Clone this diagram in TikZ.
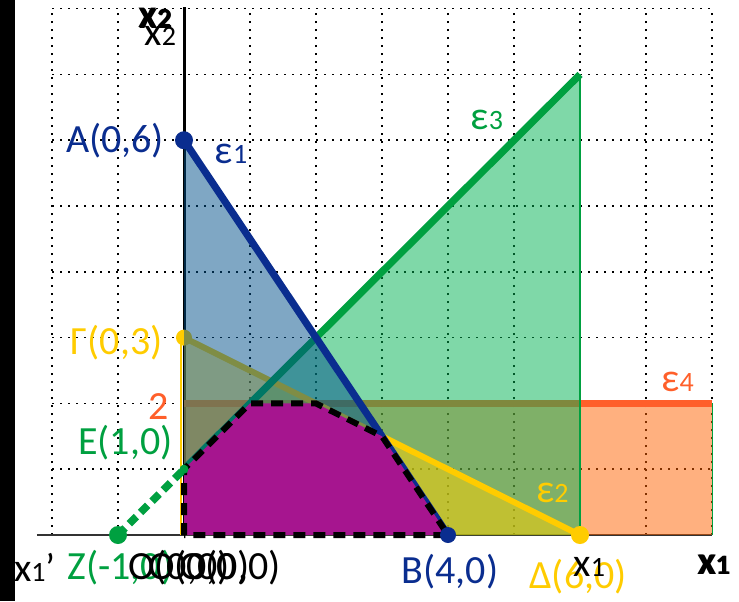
\documentclass[tikz,border=0pt]{standalone}
\usepackage{fontspec}
\setmainfont{Carlito}
\definecolor{cblue}{HTML}{0A2D8F}
\definecolor{cbluefill}{HTML}{00508A}
\definecolor{cgreen}{HTML}{00A040}
\definecolor{cgreenfill}{HTML}{00B151}
\definecolor{cyellow}{HTML}{FFCC00}
\definecolor{cyellowfill}{HTML}{FFD000}
\definecolor{corange}{HTML}{FF5F2A}
\definecolor{corangefill}{HTML}{FF6100}
\definecolor{cpurple}{HTML}{A6158F}
\newcommand{\sub}[1]{{\fontsize{14}{14}\selectfont #1}}
\begin{document}
\begin{tikzpicture}[x=33pt,y=32.9pt,
  lab/.style={inner sep=0pt, font=\fontsize{20}{24}\selectfont},
  gridline/.style={black, line width=0.75pt, dash pattern=on 0.8pt off 3.2pt},
  thickline/.style={line width=3.6pt},
  dot/.style={circle, inner sep=0pt, minimum size=#1},
  fillop/.style={fill opacity=0.5}]
\useasboundingbox (-2.788,-1.003) rectangle (8.409,8.131);
\fill[black] (-2.788,-1.003) rectangle (-2.561,8.131);
% grid
\foreach \i in {-2,-1,1,2,3,4,5,6,7,8} \draw[gridline] (\i,0) -- (\i,8);
\foreach \j in {1,...,8} \draw[gridline] (-2,\j) -- (8,\j);
% key points
\coordinate (O) at (0,0);
\coordinate (A) at (0,6);
\coordinate (B) at (4,0);
\coordinate (G) at (0,3);
\coordinate (D) at (6,0);
\coordinate (Z) at (-1,0);
\coordinate (E) at (0,1);
\coordinate (P) at (6,7);
\coordinate (R) at (0,2);
\coordinate (Q) at (8,2);
\coordinate (S) at (8,0);
\coordinate (F1) at (1,2);
\coordinate (F2) at (2,2);
\coordinate (F3) at (3,1.5);
\coordinate (Ytop) at (0,8.02);
\coordinate (Xleft) at (-2.23,0);
% axes
\draw[black!80, line width=0.8pt] (Xleft) -- (S);
\draw[black, line width=1.5pt] (O) -- (Ytop);
% orange region
\fill[corangefill, fillop] (O) rectangle (Q);
\draw[cgreen, line width=0.5pt] (S) -- (Q);
\draw[corange, line width=3.4pt] (R) -- (Q);
% green region
\fill[cgreenfill, fillop] (O) -- (E) -- (P) -- (D) -- cycle;
\draw[cgreen, line width=0.6pt] (P) -- (D);
% yellow region
\fill[cyellowfill, fillop] (O) -- (G) -- (D) -- cycle;
\draw[cyellow, line width=0.8pt] ([xshift=-1.5pt]O) -- ([xshift=-1.5pt]G);
\draw[cyellow, line width=3pt] (G) -- (D);
\draw[cgreen, thickline] (E) -- (P);
\node[dot=8pt, fill=cyellow] (Gd) at (G) {};
% blue region
\fill[cbluefill, fillop] (O) -- (A) -- (B) -- cycle;
\draw[cblue, thickline] (A) -- (B);
% feasible region
\fill[cpurple] (O) -- (E) -- (F1) -- (F2) -- (F3) -- (B) -- cycle;
\draw[black, line width=3pt, dash pattern=on 6pt off 4pt] (O) -- (E) -- (F1) -- (F2) -- (F3) -- (B) -- cycle;
% dashed extension of epsilon3
\draw[cgreen, line width=3.8pt, dash pattern=on 5pt off 3pt] (Z) -- (E);
% points
\node[dot=9pt, fill=cblue] (Ad) at (A) {};
\node[dot=8pt, fill=cblue] (Bd) at (B) {};
\node[dot=9pt, fill=cyellow] (Dd) at (D) {};
\node[dot=9pt, fill=cgreen] (Zd) at (Z) {};
\node[dot=4.5pt, fill=cgreen] (Ed) at (E) {};
% labels
\node[lab, text=cblue] (lA) at (-1.045,5.99) {A(0,6)};
\node[lab, text=cblue] (le1) at (0.712,5.79) {ε\sub{1}};
\node[lab, text=cgreen] (le3) at (4.59,6.31) {ε\sub{3}};
\node[lab, text=cyellow] (lG) at (-1.02,2.92) {Γ(0,3)};
\node[lab, text=corange] (l2) at (-0.39,1.95) {2};
\node[lab, text=cgreen] (lE) at (-0.89,1.41) {E(1,0)};
\node[lab, text=corange] (le4) at (7.48,2.33) {ε\sub{4}};
\node[lab, text=cyellow] (le2) at (5.58,0.64) {ε\sub{2}};
\node[lab] (lx1p) at (-2.26,-0.49) {x\sub{1}’};
\node[lab, text=cgreen, anchor=west] (lZ) at (-1.77,-0.49) {Z(-1,0)};
\node[lab, anchor=west] (lO1) at (-0.85,-0.49) {O(0,0)};
\node[lab, anchor=west] (lO2) at (-0.55,-0.49) {O(0,0)};
\node[lab, anchor=west] (lO3) at (-0.08,-0.49) {O(0,0)};
\node[lab, text=cblue] (lB) at (4.03,-0.56) {B(4,0)};
\node[lab, text=cyellow] (lD) at (5.97,-0.64) {Δ(6,0)};
\node[lab] (lx1) at (6.14,-0.49) {x\sub{1}};
\node[lab, font=\fontsize{20}{24}\selectfont\bfseries] (lX1a) at (8.02,-0.46) {x\sub{1}};
\node[lab, font=\fontsize{20}{24}\selectfont\bfseries] (lX1b) at (8.035,-0.45) {x\sub{1}};
\node[lab, font=\fontsize{20}{24}\selectfont\bfseries] (lX2a) at (-0.44,7.86) {x\sub{2}};
\node[lab, font=\fontsize{20}{24}\selectfont\bfseries] (lX2b) at (-0.425,7.84) {x\sub{2}};
\node[lab] (lX2c) at (-0.36,7.58) {x\sub{2}};
\end{tikzpicture}
\end{document}
